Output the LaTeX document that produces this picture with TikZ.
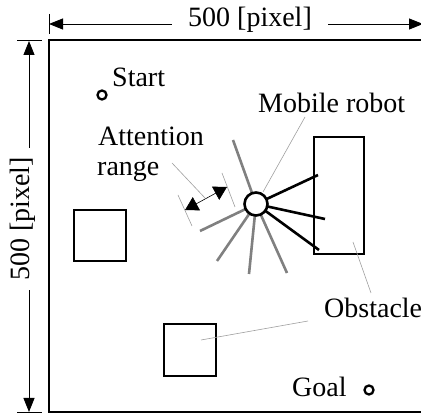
\documentclass[tikz,border=0pt]{standalone}
\usepackage{fontspec}
\setmainfont{Liberation Serif}
\usetikzlibrary{arrows.meta}

\begin{document}
\begin{tikzpicture}[x=1pt,y=-1pt,
  every node/.style={font=\fontsize{28}{32}\selectfont, inner sep=0pt},
  frame/.style={line width=2.7pt},
  obst/.style={draw, line width=2.6pt},
  bigtip/.style={-{Triangle[length=14pt,width=11pt]}, line width=0.9pt},
  smalltip/.style={{Triangle[length=13pt,width=15pt]}-{Triangle[length=13pt,width=15pt]}, line width=0.6pt},
  tick/.style={line width=0.8pt},
  leader/.style={draw=gray!75, line width=0.6pt},
  ray/.style={line width=2.6pt, draw=gray},
  hit/.style={line width=2.6pt, draw=black},
  waypoint/.style={circle, draw, line width=2.3pt, minimum size=9pt},
]
\useasboundingbox (0,0) rectangle (421,419);

% field boundary
\draw[frame] (49,40) rectangle (423,412);

% width dimension
\coordinate (wl) at (49,24);
\coordinate (wr) at (423,24);
\coordinate (wt1) at (49,14);
\coordinate (wt2) at (49,34);
\node[inner xsep=16pt] (wlabel) at (250,20) {500 [pixel]};
\draw[tick] (wt1) -- (wt2);
\draw[bigtip] (wlabel.west |- wl) -- (wl);
\draw[bigtip] (wlabel.east |- wr) -- (wr);

% height dimension
\coordinate (ht) at (29,41);
\coordinate (hb) at (29,412);
\coordinate (ht1) at (17,40);
\coordinate (ht2) at (42,40);
\coordinate (hb1) at (17,412);
\coordinate (hb2) at (42,412);
\node[rotate=90, inner xsep=9pt] (hlabel) at (23,219) {500 [pixel]};
\draw[tick] (ht1) -- (ht2);
\draw[tick] (hb1) -- (hb2);
\draw[bigtip] (hlabel.east -| ht) -- (ht);
\draw[bigtip] (hlabel.west -| hb) -- (hb);

% obstacles
\node[obst, minimum width=52pt, minimum height=51pt] (obA) at (100,235.5) {};
\node[obst, minimum width=52pt, minimum height=52pt] (obB) at (190,350) {};
\node[obst, minimum width=50pt, minimum height=117pt] (obC) at (339,195.5) {};

% start and goal
\node[waypoint] (start) at (102,95) {};
\node[anchor=base west] (startl) at (112,87) {Start};
\node[waypoint] (goal) at (369,390) {};
\node[anchor=base west] (goall) at (292,397) {Goal};

% sensor rays of the robot
\coordinate (g1) at (233,140);
\coordinate (g2) at (200,231);
\coordinate (g3) at (217,261);
\coordinate (g4) at (249,274);
\coordinate (g5) at (287,273);
\coordinate (k1) at (318,175);
\coordinate (k2) at (325,219);
\coordinate (k3) at (319,250);
\node[circle, minimum size=23pt] (robotc) at (256,204) {};
\foreach \e in {g1,g2,g3,g4,g5} \draw[ray] (robotc) -- (\e);
\foreach \e in {k1,k2,k3} \draw[hit] (robotc) -- (\e);
\node[circle, draw, fill=white, line width=2.6pt, minimum size=23pt] (robot) at (256,204) {};

% labels with leaders
\node[anchor=base west] (robotl) at (258,113) {Mobile robot};
\coordinate (rl1) at (305,117);
\coordinate (rl2) at (263,192);
\draw[leader] (rl1) -- (rl2);

\node[anchor=base west] (obsl) at (324,318) {Obstacle};
\coordinate (ol1) at (308,321);
\coordinate (ol2) at (201,340);
\coordinate (ol3) at (371,293);
\coordinate (ol4) at (353,242);
\draw[leader] (ol1) -- (ol2);
\draw[leader] (ol3) -- (ol4);

% attention range
\node[anchor=base west] (attl1) at (98,146) {Attention};
\node[anchor=base west] (attl2) at (97,176) {range};
\coordinate (e1a) at (178,195);
\coordinate (e1b) at (192,226);
\coordinate (e2a) at (222,173);
\coordinate (e2b) at (235,207);
\coordinate (d1) at (185,210);
\coordinate (d2) at (227,187);
\coordinate (dm) at (205,198);
\coordinate (al) at (172,163);
\draw[leader] (e1a) -- (e1b);
\draw[leader] (e2a) -- (e2b);
\draw[leader] (al) -- (dm);
\draw[smalltip] (d1) -- (d2);
\end{tikzpicture}
\end{document}
